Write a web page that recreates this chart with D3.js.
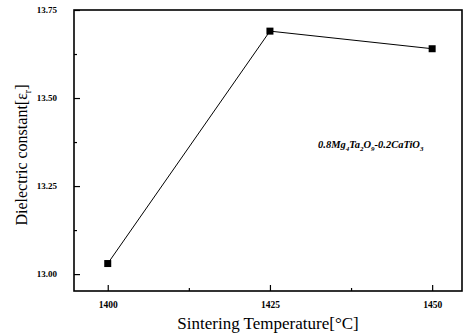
<!DOCTYPE html>
<html>
<head>
<meta charset="utf-8">
<script src="https://cdn.jsdelivr.net/npm/d3@7"></script>
<style>
  body { margin: 0; background: #fff; }
  svg text { font-family: "Liberation Serif", "Times New Roman", "DejaVu Serif", serif !important; }
</style>
</head>
<body>
<svg id="chart"></svg>
<script>
var temps = [1400, 1425, 1450];
var dielectric = [13.03, 13.69, 13.64];
var xTicks = [1400, 1425, 1450];
var xMinor = [1412.5, 1437.5];
var yTicks = [13.00, 13.25, 13.50, 13.75];
var yMinor = [13.125, 13.375, 13.625];

var width = 468;
var height = 335;
var margin = {top: 10, right: 6, bottom: 44, left: 74};

var svg = d3.select("#chart")
            .attr("width", width)
            .attr("height", height);

var x = d3.scaleLinear()
          .domain([1394.8, 1454.6])
          .range([margin.left, width - margin.right]);

var y = d3.scaleLinear()
          .domain([12.952, 13.75])
          .range([height - margin.bottom, margin.top]);

var plotW = width - margin.left - margin.right;
var plotH = height - margin.top - margin.bottom;

// frame
svg.append("rect")
   .attr("x", margin.left)
   .attr("y", margin.top)
   .attr("width", plotW)
   .attr("height", plotH)
   .attr("fill", "none")
   .attr("stroke", "#000")
   .attr("stroke-width", 1.6);

// x axis (ticks inward)
var xAxis = svg.append("g")
   .attr("transform", "translate(0," + (height - margin.bottom) + ")")
   .call(d3.axisBottom(x).tickValues(xTicks).tickSize(-6).tickPadding(10).tickFormat(d3.format("d")));
xAxis.select(".domain").remove();
xAxis.selectAll("text")
     .attr("font-size", 9.5)
     .attr("font-weight", "bold");

svg.append("g")
   .attr("transform", "translate(0," + (height - margin.bottom) + ")")
   .call(d3.axisBottom(x).tickValues(xMinor).tickSize(-3).tickFormat(""))
   .select(".domain").remove();

// y axis (ticks inward)
var yAxis = svg.append("g")
   .attr("transform", "translate(" + margin.left + ",0)")
   .call(d3.axisLeft(y).tickValues(yTicks).tickSize(-6).tickPadding(17).tickFormat(d3.format(".2f")));
yAxis.select(".domain").remove();
yAxis.selectAll("text")
     .attr("font-size", 9)
     .attr("font-weight", "bold");

svg.append("g")
   .attr("transform", "translate(" + margin.left + ",0)")
   .call(d3.axisLeft(y).tickValues(yMinor).tickSize(-3).tickFormat(""))
   .select(".domain").remove();

svg.selectAll(".tick line").attr("stroke-width", 1.2);

// line
var line = d3.line()
   .x(function(d, i) { return x(temps[i]); })
   .y(function(d) { return y(d); });

svg.append("path")
   .datum(dielectric)
   .attr("d", line)
   .attr("fill", "none")
   .attr("stroke", "#000")
   .attr("stroke-width", 1);

// markers
svg.selectAll("rect.pt")
   .data(dielectric)
   .enter()
   .append("rect")
   .attr("class", "pt")
   .attr("x", function(d, i) { return x(temps[i]) - 3.5; })
   .attr("y", function(d) { return y(d) - 3.5; })
   .attr("width", 7)
   .attr("height", 7)
   .attr("fill", "#000");

// annotation
var ann = svg.append("text")
   .attr("x", 318)
   .attr("y", 148)
   .attr("font-size", 10.5)
   .attr("font-style", "italic")
   .attr("font-weight", "bold");
ann.append("tspan").text("0.8Mg");
ann.append("tspan").attr("font-size", 7).attr("dy", 3).text("4");
ann.append("tspan").attr("dy", -3).text("Ta");
ann.append("tspan").attr("font-size", 7).attr("dy", 3).text("2");
ann.append("tspan").attr("dy", -3).text("O");
ann.append("tspan").attr("font-size", 7).attr("dy", 3).text("9");
ann.append("tspan").attr("dy", -3).text("-0.2CaTiO");
ann.append("tspan").attr("font-size", 7).attr("dy", 3).text("3");

// axis labels
svg.append("text")
   .attr("x", (margin.left + width - margin.right) / 2)
   .attr("y", 329)
   .attr("text-anchor", "middle")
   .attr("font-size", 17)
   .text("Sintering Temperature[°C]");

var yl = svg.append("text")
   .attr("transform", "translate(27,155) rotate(-90)")
   .attr("text-anchor", "middle")
   .attr("font-size", 16);
yl.append("tspan").text("Dielectric constant[ε");
yl.append("tspan").attr("font-size", 10).attr("dy", 4).text("r");
yl.append("tspan").attr("dy", -4).text("]");
</script>
</body>
</html>
